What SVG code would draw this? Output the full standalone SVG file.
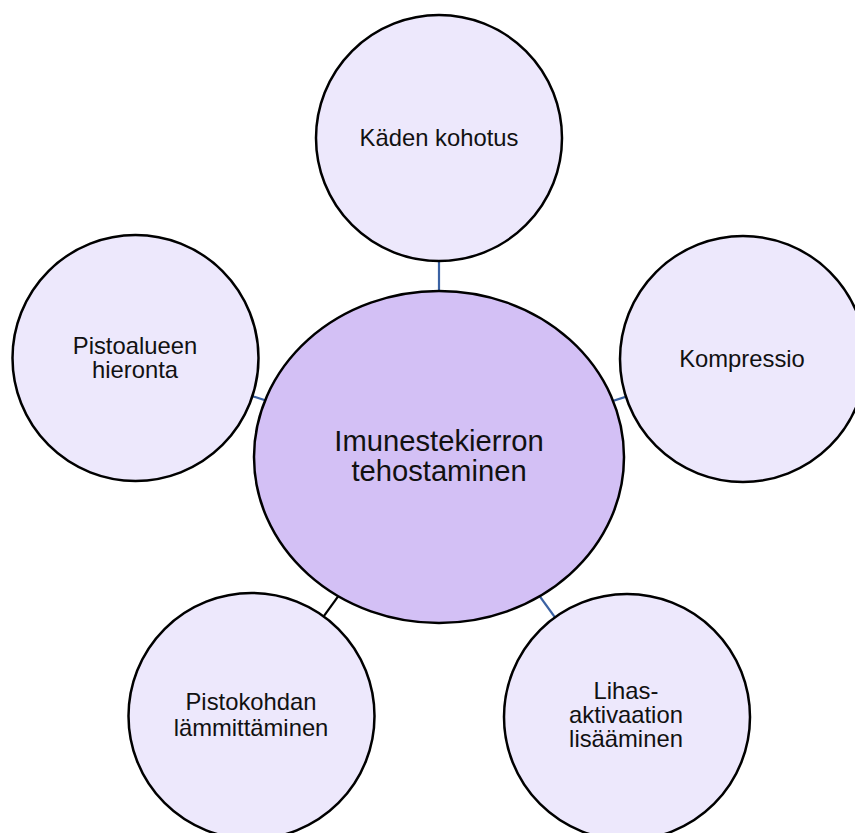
<svg xmlns="http://www.w3.org/2000/svg" width="855" height="833" viewBox="0 0 855 833">
<style>
.bg{fill:#ffffff}
.sat{fill:#ede8fc;stroke:#000000;stroke-width:2.5}
.hub{fill:#d3c0f5;stroke:#000000;stroke-width:2.5}
.lnk{stroke:#3b62a3;stroke-width:2.2;fill:none}
.lnk.dark{stroke:#000000}
text{font-family:"Liberation Sans",Arial,sans-serif;fill:#111111;text-anchor:middle}
.t{font-size:23.8px}
.tc{font-size:29.2px}
</style>
<rect class="bg" x="0" y="0" width="855" height="833"/>
<g id="connectors">
<line class="lnk" x1="439" y1="457" x2="439" y2="138"/>
<line class="lnk" x1="439" y1="457" x2="743" y2="359"/>
<line class="lnk" x1="439" y1="457" x2="135.5" y2="358"/>
<line class="lnk" x1="439" y1="457" x2="627" y2="717"/>
<line class="lnk dark" x1="439" y1="457" x2="251.5" y2="716"/>
</g>
<g id="node-center">
<ellipse class="hub" cx="439" cy="457" rx="185" ry="166"/>
<text class="tc" x="439" y="451">Imunestekierron</text>
<text class="tc" x="439" y="481">tehostaminen</text>
</g>
<g id="node-top">
<circle class="sat" cx="439" cy="138" r="123"/>
<text class="t" x="439" y="146">Käden kohotus</text>
</g>
<g id="node-right">
<circle class="sat" cx="743" cy="359" r="123"/>
<text class="t" x="742" y="367">Kompressio</text>
</g>
<g id="node-left">
<circle class="sat" cx="135.5" cy="358" r="123"/>
<text class="t" x="135" y="354">Pistoalueen</text>
<text class="t" x="135" y="378">hieronta</text>
</g>
<g id="node-bottom-left">
<circle class="sat" cx="251.5" cy="716" r="123"/>
<text class="t" x="251" y="710">Pistokohdan</text>
<text class="t" x="251" y="736">lämmittäminen</text>
</g>
<g id="node-bottom-right">
<circle class="sat" cx="627" cy="717" r="123"/>
<text class="t" x="626" y="699">Lihas-</text>
<text class="t" x="626" y="723">aktivaation</text>
<text class="t" x="626" y="747">lisääminen</text>
</g>
</svg>
